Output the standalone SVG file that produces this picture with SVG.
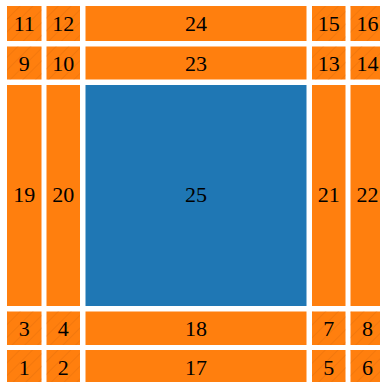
<svg xmlns="http://www.w3.org/2000/svg" width="380" height="382" viewBox="0 0 380 382">
<style>
.o{fill:#ff7f0e}
.b{fill:#1f77b4}
.h{fill:url(#hatch)}
text{font-family:"Liberation Serif","DejaVu Serif",serif;font-size:22px;fill:#000;text-anchor:middle}
</style>
<defs>
<pattern id="hatch" patternUnits="userSpaceOnUse" width="9" height="9" patternTransform="rotate(45)">
<line x1="0" y1="0" x2="0" y2="9" stroke="#d9660a" stroke-opacity="0.6" stroke-width="1"/>
</pattern>
</defs>
<rect width="380" height="382" fill="#fff"/>
<g id="n11"><rect class="o" x="7" y="6" width="34.5" height="35"/><rect class="h" x="7" y="6" width="34.5" height="35"/><text x="24.25" y="31">11</text></g>
<g id="n12"><rect class="o" x="46.5" y="6" width="33.5" height="35"/><rect class="h" x="46.5" y="6" width="33.5" height="35"/><text x="63.25" y="31">12</text></g>
<g id="n24"><rect class="o" x="85.5" y="6" width="221" height="35"/><text x="196" y="31">24</text></g>
<g id="n15"><rect class="o" x="312" y="6" width="33.5" height="35"/><rect class="h" x="312" y="6" width="33.5" height="35"/><text x="328.75" y="31">15</text></g>
<g id="n16"><rect class="o" x="350.5" y="6" width="34" height="35"/><rect class="h" x="350.5" y="6" width="34" height="35"/><text x="367.5" y="31">16</text></g>

<g id="n9"><rect class="o" x="7" y="46.5" width="34.5" height="33"/><rect class="h" x="7" y="46.5" width="34.5" height="33"/><text x="24.25" y="70.5">9</text></g>
<g id="n10"><rect class="o" x="46.5" y="46.5" width="33.5" height="33"/><rect class="h" x="46.5" y="46.5" width="33.5" height="33"/><text x="63.25" y="70.5">10</text></g>
<g id="n23"><rect class="o" x="85.5" y="46.5" width="221" height="33"/><text x="196" y="70.5">23</text></g>
<g id="n13"><rect class="o" x="312" y="46.5" width="33.5" height="33"/><rect class="h" x="312" y="46.5" width="33.5" height="33"/><text x="328.75" y="70.5">13</text></g>
<g id="n14"><rect class="o" x="350.5" y="46.5" width="34" height="33"/><rect class="h" x="350.5" y="46.5" width="34" height="33"/><text x="367.5" y="70.5">14</text></g>

<g id="n19"><rect class="o" x="7" y="85" width="34.5" height="221"/><text x="24.25" y="202">19</text></g>
<g id="n20"><rect class="o" x="46.5" y="85" width="33.5" height="221"/><text x="63.25" y="202">20</text></g>
<g id="n25"><rect class="b" x="85.5" y="85" width="221" height="221"/><text x="196" y="202">25</text></g>
<g id="n21"><rect class="o" x="312" y="85" width="33.5" height="221"/><text x="328.75" y="202">21</text></g>
<g id="n22"><rect class="o" x="350.5" y="85" width="34" height="221"/><text x="367.5" y="202">22</text></g>

<g id="n3"><rect class="o" x="7" y="311.5" width="34.5" height="33.5"/><rect class="h" x="7" y="311.5" width="34.5" height="33.5"/><text x="24.25" y="335.5">3</text></g>
<g id="n4"><rect class="o" x="46.5" y="311.5" width="33.5" height="33.5"/><rect class="h" x="46.5" y="311.5" width="33.5" height="33.5"/><text x="63.25" y="335.5">4</text></g>
<g id="n18"><rect class="o" x="85.5" y="311.5" width="221" height="33.5"/><text x="196" y="335.5">18</text></g>
<g id="n7"><rect class="o" x="312" y="311.5" width="33.5" height="33.5"/><rect class="h" x="312" y="311.5" width="33.5" height="33.5"/><text x="328.75" y="335.5">7</text></g>
<g id="n8"><rect class="o" x="350.5" y="311.5" width="34" height="33.5"/><rect class="h" x="350.5" y="311.5" width="34" height="33.5"/><text x="367.5" y="335.5">8</text></g>

<g id="n1"><rect class="o" x="7" y="350" width="34.5" height="34"/><rect class="h" x="7" y="350" width="34.5" height="34"/><text x="24.25" y="374.5">1</text></g>
<g id="n2"><rect class="o" x="46.5" y="350" width="33.5" height="34"/><rect class="h" x="46.5" y="350" width="33.5" height="34"/><text x="63.25" y="374.5">2</text></g>
<g id="n17"><rect class="o" x="85.5" y="350" width="221" height="34"/><text x="196" y="374.5">17</text></g>
<g id="n5"><rect class="o" x="312" y="350" width="33.5" height="34"/><rect class="h" x="312" y="350" width="33.5" height="34"/><text x="328.75" y="374.5">5</text></g>
<g id="n6"><rect class="o" x="350.5" y="350" width="34" height="34"/><rect class="h" x="350.5" y="350" width="34" height="34"/><text x="367.5" y="374.5">6</text></g>
<g id="connectors"/>
</svg>
